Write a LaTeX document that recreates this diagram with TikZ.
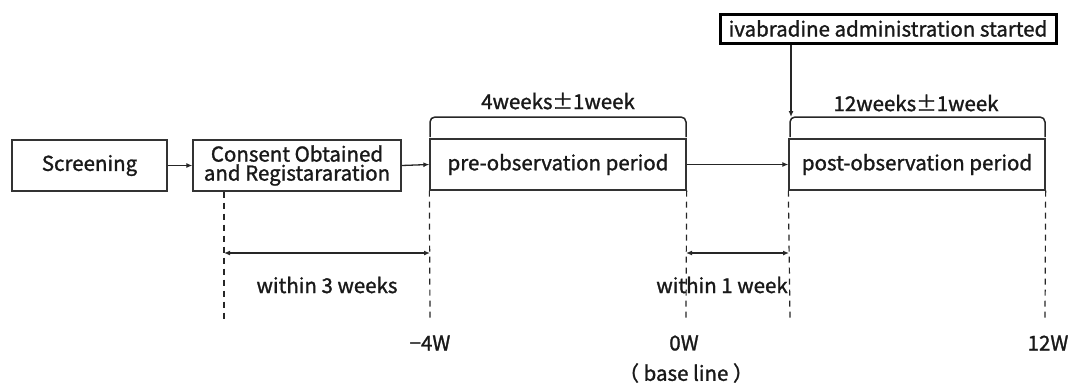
\documentclass[tikz,border=0pt]{standalone}
\usepackage{fontspec}
\setmainfont[FakeBold=1.3]{Noto Sans CJK JP}
\usetikzlibrary{arrows.meta}
\newcommand{\fs}{\fontsize{20.5}{23}\selectfont}
\begin{document}
\begin{tikzpicture}[x=1pt,y=-1pt,
  box/.style={draw=black!80,line width=1.3pt,inner sep=0pt,font=\fs,align=center,text=black!90},
  lbl/.style={inner sep=0pt,font=\fs,text=black!90},
  arr/.style={draw=black!85,line width=1.3pt,-{Latex[length=6pt,width=5pt]}},
  darr/.style={draw=black!85,line width=1.3pt,{Latex[length=6pt,width=5pt]}-{Latex[length=6pt,width=5pt]}},
  dsh/.style={draw=black!85,line width=1.2pt,dash pattern=on 6pt off 5pt},
  brc/.style={draw=black!85,line width=1.5pt,rounded corners=5pt}]
\useasboundingbox (0,0) rectangle (1069,384);
% boxes
\node[box,minimum width=155pt,minimum height=51pt] (scr) at (89.5,165.5) {Screening};
\node[box,minimum width=208pt,minimum height=51pt] (con) at (297,165.5) {Consent Obtained\\[-4pt]and Registararation};
\node[box,minimum width=256pt,minimum height=51pt] (pre) at (558,164.5) {pre-observation period};
\node[box,minimum width=256pt,minimum height=51pt] (post) at (917,164.5) {post-observation period};
\node[box,draw=black,line width=3pt,minimum width=336pt,minimum height=29pt] (iva) at (888,28.5) {ivabradine administration started};
% flow arrows
\draw[arr] (scr.east) -- (con.west);
\draw[arr] (con.east) -- (pre.west);
\draw[arr] (pre.east) -- (post.west);
% braces
\coordinate (b1l) at (430,137); \coordinate (b1r) at (686,137);
\coordinate (b2l) at (790,137); \coordinate (b2r) at (1045,137);
\draw[brc] (b1l) -- (430,117) -- (686,117) -- (b1r);
\draw[brc] (b2l) -- (790,117) -- (1045,117) -- (b2r);
\node[lbl] (w4) at (558,101) {4weeks±1week};
\node[lbl] (w12) at (916,103) {12weeks±1week};
\coordinate (ivaend) at (791,117);
\draw[arr] (iva.south -| ivaend) -- (ivaend);
% dashed lines
\coordinate (d1) at (224,319); \coordinate (d2) at (430,319);
\coordinate (d3) at (686,319); \coordinate (d4) at (790,319);
\coordinate (d5) at (1045,319);
\draw[dsh] (con.south -| d1) -- (d1);
\draw[dsh] (pre.south west) -- (d2);
\draw[dsh] (pre.south east) -- (d3);
\draw[dsh] (post.south west) -- (d4);
\draw[dsh] (post.south east) -- (d5);
% intervals
\coordinate (a1) at (224,253); \coordinate (a2) at (430,253);
\coordinate (a3) at (686,253); \coordinate (a4) at (789,253);
\draw[darr] (a1) -- (a2);
\draw[darr] (a3) -- (a4);
\node[lbl] (t3) at (327,285) {within 3 weeks};
\node[lbl] (t1) at (722,285) {within 1 week};
% week labels
\node[lbl] (m4) at (430,343) {−4W};
\node[lbl] (z0) at (684,343) {0W};
\node[lbl] (w12l) at (1048,343) {12W};
\node[lbl] (bl) at (686,373) {（ base line ）};
\end{tikzpicture}
\end{document}
